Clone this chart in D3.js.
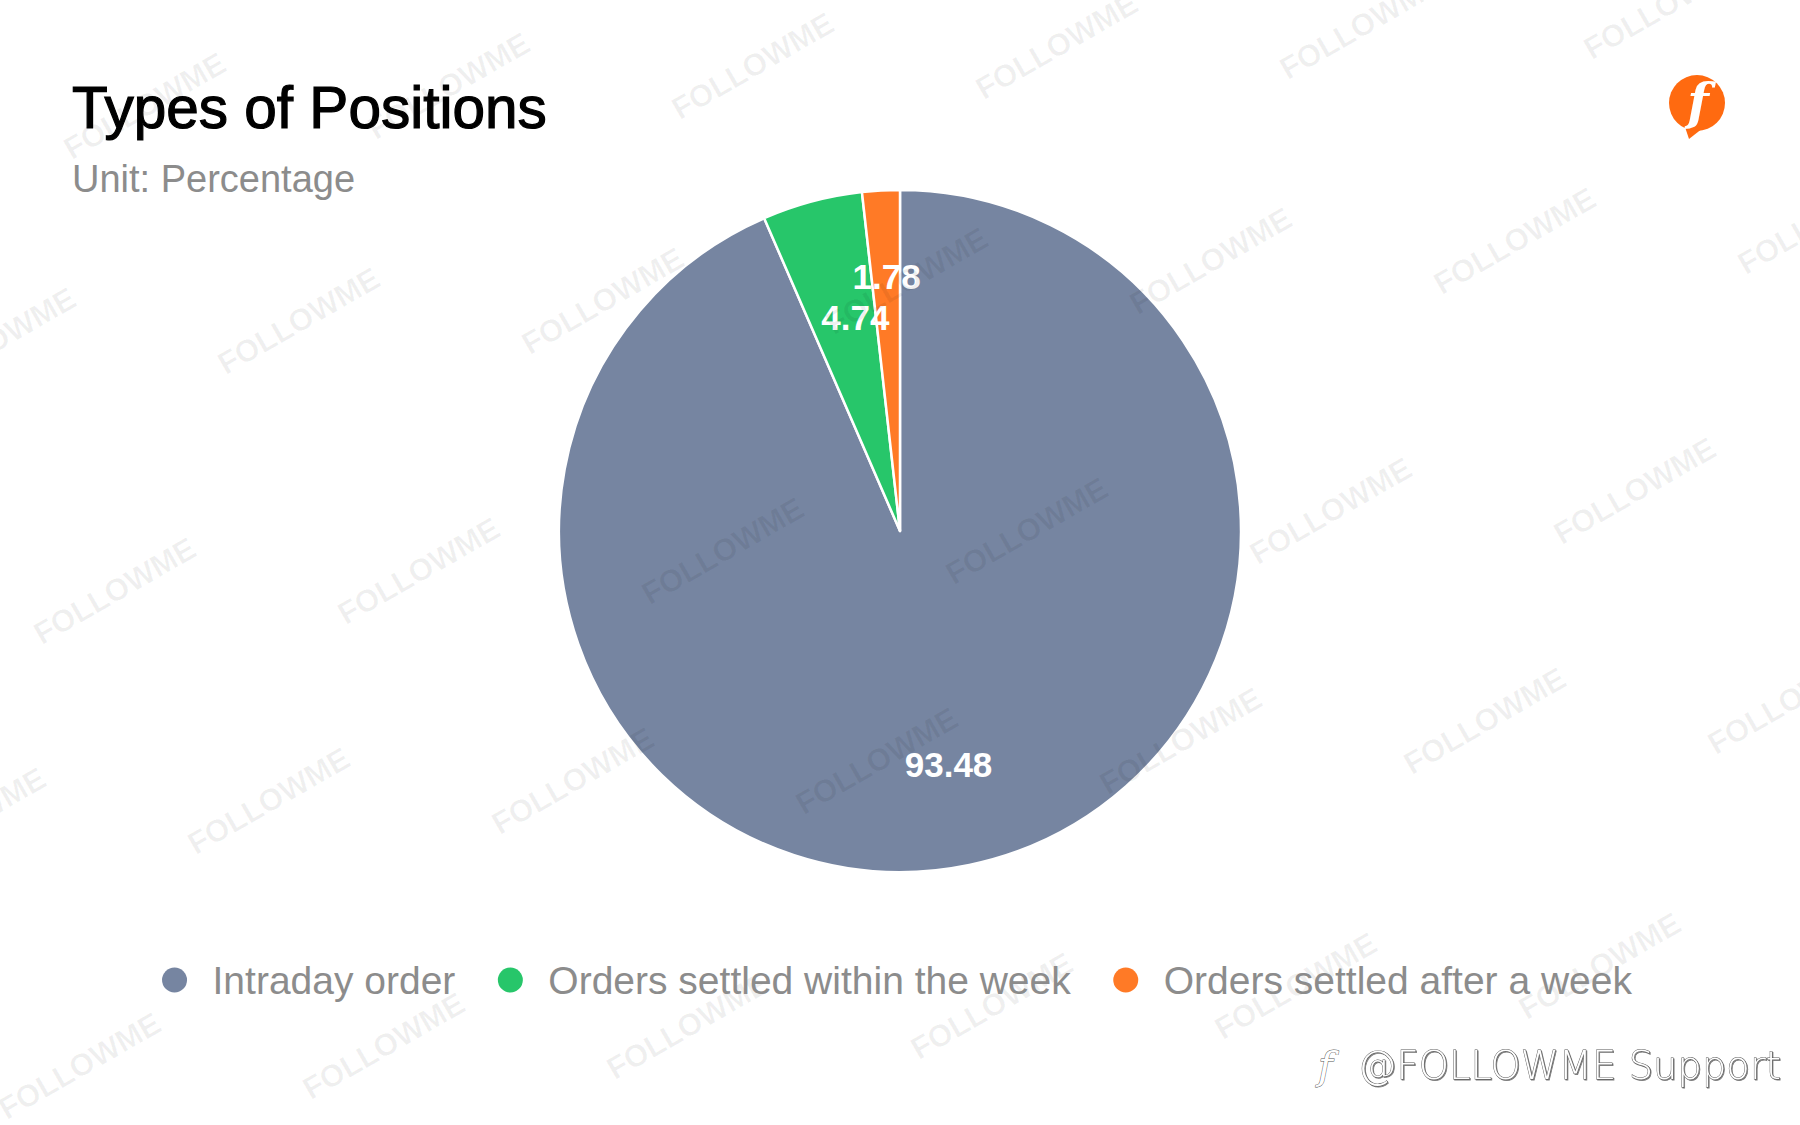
<!DOCTYPE html>
<html><head><meta charset="utf-8">
<script src="https://cdn.jsdelivr.net/npm/d3@7"></script>
<style>html,body{margin:0;padding:0;background:#fff;}svg{display:block;}</style>
</head><body>
<svg id="chart" width="1800" height="1125"></svg>
<script>
const categories = ["Intraday order", "Orders settled within the week", "Orders settled after a week"];
const values = [93.48, 4.74, 1.78];
const valueLabels = ["93.48", "4.74", "1.78"];
const colors = ["#7685A1", "#27C66A", "#FF7A26"];
const titleText = "Types of Positions";
const subtitleText = "Unit: Percentage";

const W = 1800, H = 1125;
const svg = d3.select("#chart");
svg.append("rect").attr("width", W).attr("height", H).attr("fill", "#fff");

const cx = 900, cy = 531, R = 341;
const pie = d3.pie().sort(null).value(d => d)(values);
const arc = d3.arc().innerRadius(0).outerRadius(R);
const labelArc = d3.arc().innerRadius(R * 0.7).outerRadius(R * 0.7);

const g = svg.append("g").attr("transform", `translate(${cx},${cy})`);
g.selectAll("path.slice").data(pie).join("path")
  .attr("class", "slice")
  .attr("d", arc)
  .attr("fill", (d, i) => colors[i])
  .attr("stroke", "#fff").attr("stroke-width", 2.5).attr("stroke-linejoin", "round");

// watermarks (decoration)
const wm = svg.append("g").attr("pointer-events", "none");
const rows = [
  {y: 115, x0: 150}, {y: 350, x0: 0}, {y: 600, x0: 120}, {y: 830, x0: -30}, {y: 1075, x0: 85}
];
rows.forEach(row => {
  for (let k = -1; k < 8; k++) {
    const x = row.x0 + k * 304;
    const y = row.y - k * 20;
    wm.append("text")
      .attr("transform", `translate(${x},${y}) rotate(-30)`)
      .attr("text-anchor", "middle")
      .attr("font-family", "Liberation Sans, Arial, sans-serif")
      .attr("font-weight", "bold")
      .attr("font-size", 31)
      .attr("fill", "rgba(0,0,0,0.06)")
      .text("FOLLOWME");
  }
});

// labels with simple vertical overlap resolution
const labelFont = 35, labelH = 30, gapPad = 11;
const lbls = pie.map((d, i) => {
  const c = labelArc.centroid(d);
  return {x: c[0], y: c[1], text: valueLabels[i]};
});
const tmp = g.append("text").attr("font-family", "Liberation Sans, Arial, sans-serif")
  .attr("font-weight", "bold").attr("font-size", labelFont);
lbls.forEach(l => { tmp.text(l.text); l.w = tmp.node().getComputedTextLength(); });
tmp.remove();
for (let i = 0; i < lbls.length; i++) {
  for (let j = i + 1; j < lbls.length; j++) {
    const a = lbls[i], b = lbls[j];
    const overlapX = Math.abs(a.x - b.x) < (a.w + b.w) / 2;
    const need = labelH + gapPad;
    const dy = Math.abs(a.y - b.y);
    if (overlapX && dy < need) {
      const push = (need - dy) / 2;
      const upper = a.y <= b.y ? a : b, lower = upper === a ? b : a;
      upper.y -= push; lower.y += push;
      // slide the lower label toward the slice edge so it stays inside its wedge
      lower.x += (upper.x - lower.x) * 0.35;
    }
  }
}
g.selectAll("text.lbl").data(lbls).join("text")
  .attr("class", "lbl")
  .attr("x", d => d.x)
  .attr("y", d => d.y)
  .attr("text-anchor", "middle")
  .attr("dominant-baseline", "central")
  .attr("font-family", "Liberation Sans, Arial, sans-serif")
  .attr("font-weight", "bold")
  .attr("font-size", labelFont)
  .attr("fill", "#fff")
  .text(d => d.text);

// title
svg.append("text").attr("x", 72).attr("y", 128)
  .attr("font-family", "Liberation Sans, Arial, sans-serif")
  .attr("font-size", 58.5).attr("fill", "#000")
  .attr("stroke", "#000").attr("stroke-width", 1.2)
  .text(titleText);
svg.append("text").attr("x", 72).attr("y", 192)
  .attr("font-family", "Liberation Sans, Arial, sans-serif")
  .attr("font-size", 38).attr("fill", "#8c8c8c")
  .text(subtitleText);

// legend
const leg = svg.append("g");
const items = leg.selectAll("g.item").data(categories).join("g").attr("class", "item");
items.append("circle").attr("r", 12.5).attr("cy", 0).attr("cx", 0).attr("fill", (d, i) => colors[i]);
items.append("text").attr("x", 38).attr("y", 14)
  .attr("font-family", "Liberation Sans, Arial, sans-serif")
  .attr("font-size", 39).attr("fill", "#8c8c8c")
  .text(d => d);
let xpos = 0; const offs = [];
items.each(function(d, i) {
  const w = d3.select(this).select("text").node().getComputedTextLength();
  offs.push(xpos);
  xpos += 38 + w + 55;
});
const total = xpos - 55 + 12.5;
const startX = 897 - total / 2 + 12.5;
items.attr("transform", (d, i) => `translate(${startX + offs[i]},980)`);

// logo
const logo = svg.append("g").attr("transform", "translate(1697,103)");
logo.append("path").attr("d", "M-12,24 L-8,36 L6,25 Z").attr("fill", "#FF6A10");
logo.append("circle").attr("r", 28).attr("fill", "#FF6A10");
logo.append("text").attr("x", 1).attr("y", 16).attr("text-anchor", "middle")
  .attr("font-family", "DejaVu Serif, serif").attr("font-style", "italic").attr("font-weight", "bold")
  .attr("font-size", 50).attr("fill", "#fff").text("f");

// bottom-right signature
const sig = svg.append("g");
sig.append("text").attr("x", 1358).attr("y", 1079)
  .attr("font-family", "DejaVu Sans, sans-serif").attr("font-weight", "200")
  .attr("font-size", 38.5).attr("fill", "#fff")
  .attr("stroke", "#555").attr("stroke-width", 0.9).attr("paint-order", "stroke")
  .style("filter", "drop-shadow(1px 1px 0.5px rgba(0,0,0,0.5))")
  .text("@FOLLOWME Support");
sig.append("text").attr("x", 1318).attr("y", 1079)
  .attr("font-family", "DejaVu Serif, serif").attr("font-style", "italic")
  .attr("font-size", 40).attr("fill", "#fff")
  .attr("stroke", "#555").attr("stroke-width", 0.9).attr("paint-order", "stroke")
  .text("f");
</script>
</body></html>
